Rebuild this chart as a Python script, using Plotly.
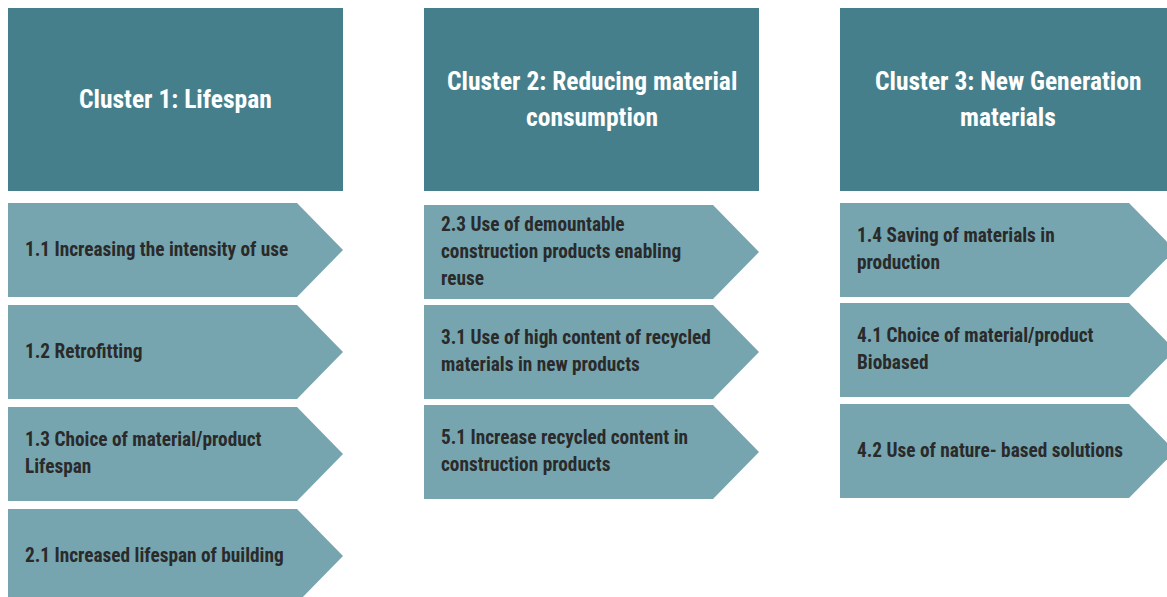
import plotly.graph_objects as go

W, H = 1167, 597

cluster_titles = [
    ["Cluster 1: Lifespan"],
    ["Cluster 2: Reducing material", "consumption"],
    ["Cluster 3: New Generation", "materials"],
]
cluster_items = [
    [
        ["1.1 Increasing the intensity of use"],
        ["1.2 Retrofitting"],
        ["1.3 Choice of material/product", "Lifespan"],
        ["2.1 Increased lifespan of building"],
    ],
    [
        ["2.3 Use of demountable", "construction products enabling", "reuse"],
        ["3.1 Use of high content of recycled", "materials in new products"],
        ["5.1 Increase recycled content in", "construction products"],
    ],
    [
        ["1.4 Saving of materials in", "production"],
        ["4.1 Choice of material/product", "Biobased"],
        ["4.2 Use of nature- based solutions"],
    ],
]

# layout geometry (pixels)
col_left = [8, 424, 840]
col_width = 335
header_top, header_bottom = 8, 191
item_tops = [
    [203, 305, 407, 509],
    [205, 305, 405],
    [203, 303, 404],
]
item_h = 94
tip_w = 46

HEADER_COLOR = "#467f8c"
ITEM_COLOR = "#76a5af"
FONT = "Roboto Condensed, Liberation Sans Narrow, Arial Narrow, Roboto, sans-serif"

fig = go.Figure()
shapes = []
annotations = []

for c in range(3):
    x0 = col_left[c]
    x1 = x0 + col_width
    shapes.append(dict(type="rect", x0=x0, x1=x1, y0=header_top, y1=header_bottom,
                       fillcolor=HEADER_COLOR, line=dict(width=0), layer="below"))
    lines = cluster_titles[c]
    cy = (header_top + header_bottom) / 2 - 1
    sp = 36
    for i, ln in enumerate(lines):
        y = cy + (i - (len(lines) - 1) / 2) * sp
        annotations.append(dict(x=(x0 + x1) / 2, y=y, text="<b>" + ln + "</b>", showarrow=False,
                                xanchor="center", yanchor="middle",
                                font=dict(family=FONT, size=25.5, color="white")))
    for k, item in enumerate(cluster_items[c]):
        t = item_tops[c][k]
        b = t + item_h
        xb = x1 - tip_w
        path = f"M {x0},{t} L {xb},{t} L {x1},{(t + b) / 2} L {xb},{b} L {x0},{b} Z"
        shapes.append(dict(type="path", path=path, fillcolor=ITEM_COLOR,
                           line=dict(width=0), layer="below"))
        cy = (t + b) / 2 - 1
        sp = 27
        for i, ln in enumerate(item):
            y = cy + (i - (len(item) - 1) / 2) * sp
            annotations.append(dict(x=x0 + 15, y=y, text="<b>" + ln + "</b>", showarrow=False,
                                    xanchor="left", yanchor="middle",
                                    font=dict(family=FONT, size=19.3, color="#2a2a2a")))

fig.update_layout(
    width=W, height=H,
    margin=dict(l=0, r=0, t=0, b=0),
    paper_bgcolor="white", plot_bgcolor="white",
    xaxis=dict(range=[0, W], visible=False, fixedrange=True),
    yaxis=dict(range=[H, 0], visible=False, fixedrange=True),
    shapes=shapes, annotations=annotations, showlegend=False,
)
fig.write_html(
    "out.html",
    config={"displayModeBar": False},
    post_script="document.body.style.margin='0';document.body.style.overflow='hidden';",
)
